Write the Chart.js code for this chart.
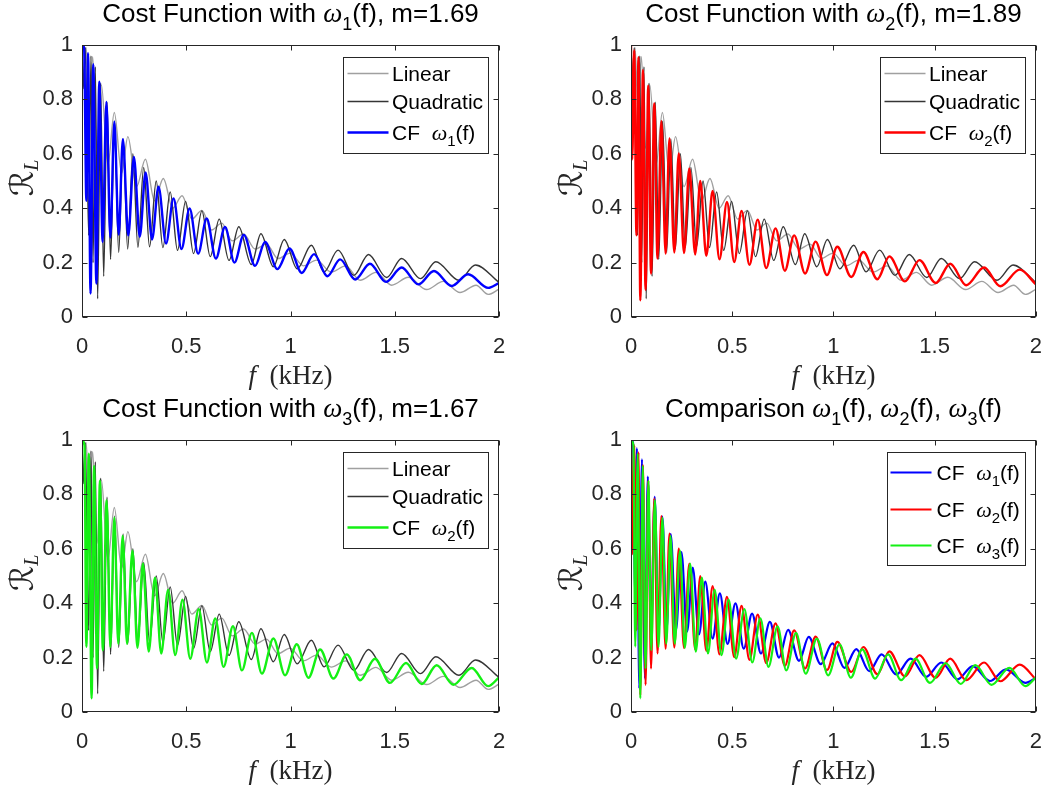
<!DOCTYPE html>
<html>
<head>
<meta charset="utf-8">
<script src="https://cdn.jsdelivr.net/npm/chart.js@4.4.1/dist/chart.umd.min.js"></script>
<style>
  html, body { margin: 0; padding: 0; background: #ffffff; }
  #fig { position: relative; width: 1059px; height: 789px; background: #ffffff; }
  #fig canvas { position: absolute; }
</style>
</head>
<body>
<div id="fig">
  <canvas id="c1" width="530" height="395" style="left:0px;top:0px;"></canvas>
  <canvas id="c2" width="529" height="395" style="left:530px;top:0px;"></canvas>
  <canvas id="c3" width="530" height="394" style="left:0px;top:395px;"></canvas>
  <canvas id="c4" width="529" height="394" style="left:530px;top:395px;"></canvas>
</div>
<script>
// Axis tick values
const xTickValues = [0, 0.5, 1, 1.5, 2];
const yTickValues = [0, 0.2, 0.4, 0.6, 0.8, 1];

// Linear reference curve: frequency (kHz) and R_L at its turning points
const linearFreq = [0, 0.007, 0.02, 0.035, 0.051, 0.072, 0.093, 0.124, 0.155, 0.19,
  0.22, 0.262, 0.304, 0.348, 0.39, 0.435, 0.48, 0.527, 0.575, 0.622,
  0.67, 0.72, 0.775, 0.83, 0.885, 0.94, 0.998, 1.062, 1.125, 1.195,
  1.265, 1.334, 1.41, 1.485, 1.565, 1.653, 1.733, 1.813, 1.89, 1.948, 2.0];
const linearR = [1.0, 0.88, 0.99, 0.75, 0.957, 0.62, 0.853, 0.56, 0.752, 0.528,
  0.663, 0.479, 0.58, 0.427, 0.509, 0.40, 0.446, 0.36, 0.392, 0.32,
  0.345, 0.28, 0.305, 0.25, 0.268, 0.215, 0.235, 0.188, 0.209, 0.165,
  0.188, 0.135, 0.164, 0.117, 0.146, 0.101, 0.131, 0.09, 0.117, 0.083, 0.102];

// Quadratic reference curve
const quadraticFreq = [0, 0.006, 0.016, 0.032, 0.043, 0.053, 0.064, 0.075, 0.089, 0.104,
  0.12, 0.137, 0.156, 0.176, 0.197, 0.219, 0.244, 0.268, 0.296, 0.324,
  0.356, 0.388, 0.423, 0.458, 0.497, 0.535, 0.575, 0.615, 0.658, 0.705,
  0.752, 0.812, 0.858, 0.918, 0.97, 1.032, 1.1, 1.161, 1.228, 1.304,
  1.374, 1.461, 1.533, 1.624, 1.697, 1.808, 1.887, 2.0];
const quadraticR = [1.0, 0.84, 0.99, 0.30, 0.96, 0.2, 0.92, 0.067, 0.86, 0.15,
  0.79, 0.212, 0.72, 0.237, 0.655, 0.25, 0.60, 0.256, 0.55, 0.258,
  0.50, 0.255, 0.46, 0.245, 0.425, 0.233, 0.39, 0.222, 0.36, 0.208,
  0.332, 0.193, 0.306, 0.185, 0.285, 0.177, 0.264, 0.166, 0.246, 0.153,
  0.23, 0.145, 0.215, 0.141, 0.203, 0.135, 0.191, 0.127];

// Cost function with weighting ω1(f)
const cf1Freq = [0, 0.01, 0.021, 0.029, 0.041, 0.054, 0.069, 0.083, 0.099, 0.117,
  0.136, 0.155, 0.176, 0.196, 0.222, 0.249, 0.277, 0.305, 0.336, 0.367,
  0.403, 0.439, 0.477, 0.516, 0.557, 0.598, 0.642, 0.686, 0.731, 0.776,
  0.83, 0.878, 0.937, 0.995, 1.054, 1.113, 1.177, 1.238, 1.31, 1.381,
  1.458, 1.533, 1.613, 1.688, 1.773, 1.852, 1.948, 2.0];
const cf1R = [1.0, 0.99, 0.427, 0.97, 0.086, 0.929, 0.123, 0.865, 0.276, 0.791,
  0.292, 0.718, 0.303, 0.654, 0.30, 0.588, 0.295, 0.531, 0.285, 0.479,
  0.27, 0.436, 0.25, 0.399, 0.233, 0.362, 0.215, 0.331, 0.2, 0.302,
  0.188, 0.276, 0.176, 0.252, 0.162, 0.231, 0.15, 0.212, 0.138, 0.196,
  0.129, 0.182, 0.12, 0.169, 0.114, 0.157, 0.107, 0.125];

// Cost function with weighting ω2(f)
const cf2Freq = [0, 0.006, 0.016, 0.027, 0.037, 0.046, 0.059, 0.072, 0.085, 0.099,
  0.115, 0.131, 0.15, 0.171, 0.19, 0.214, 0.236, 0.262, 0.288, 0.317,
  0.342, 0.372, 0.403, 0.437, 0.474, 0.51, 0.546, 0.585, 0.626, 0.668,
  0.714, 0.76, 0.806, 0.86, 0.912, 0.968, 1.019, 1.088, 1.148, 1.217,
  1.276, 1.353, 1.425, 1.505, 1.577, 1.656, 1.744, 1.824, 1.92, 2.0];
const cf2R = [1.0, 0.58, 0.98, 0.30, 0.955, 0.061, 0.908, 0.10, 0.85, 0.16,
  0.785, 0.215, 0.72, 0.233, 0.656, 0.237, 0.601, 0.235, 0.546, 0.23,
  0.50, 0.225, 0.463, 0.212, 0.423, 0.202, 0.39, 0.192, 0.358, 0.18,
  0.326, 0.17, 0.30, 0.16, 0.277, 0.154, 0.258, 0.147, 0.239, 0.139,
  0.223, 0.131, 0.209, 0.125, 0.196, 0.117, 0.182, 0.113, 0.174, 0.12];

// Cost function with weighting ω3(f)
const cf3Freq = [0, 0.012, 0.021, 0.033, 0.046, 0.058, 0.072, 0.086, 0.1, 0.118,
  0.136, 0.155, 0.174, 0.195, 0.216, 0.242, 0.266, 0.292, 0.32, 0.35,
  0.38, 0.413, 0.447, 0.482, 0.519, 0.56, 0.599, 0.639, 0.679, 0.724,
  0.767, 0.815, 0.863, 0.918, 0.974, 1.03, 1.086, 1.142, 1.206, 1.27,
  1.334, 1.405, 1.477, 1.554, 1.629, 1.701, 1.781, 1.869, 1.948, 2.0];
const cf3R = [1.0, 0.98, 0.24, 0.95, 0.05, 0.905, 0.16, 0.85, 0.227, 0.779,
  0.239, 0.714, 0.251, 0.647, 0.251, 0.593, 0.236, 0.546, 0.222, 0.494,
  0.215, 0.45, 0.209, 0.413, 0.196, 0.378, 0.182, 0.344, 0.166, 0.315,
  0.153, 0.291, 0.141, 0.27, 0.135, 0.249, 0.126, 0.23, 0.123, 0.212,
  0.117, 0.196, 0.107, 0.18, 0.103, 0.172, 0.1, 0.162, 0.095, 0.127];

// ---- styling helpers ----
const AXIS_COLOR = '#262626';
const GRAY = '#a0a0a0';
const DARK = '#353535';
const BLUE = '#0000ff';
const RED = '#ff0000';
const GREEN = '#14f014';

const sans = s => `${s}px "Liberation Sans", Arial, Helvetica, sans-serif`;
const serif = s => `${s}px "Liberation Serif", "Times New Roman", serif`;
const mathIt = s => `italic ${s}px "Liberation Serif", "DejaVu Serif", serif`;
const script = s => `${s}px "DejaVu Serif", "DejaVu Sans", serif`;

function points(fs, rs) {
  return fs.map((f, i) => ({ x: f, y: rs[i] }));
}

function series(label, fs, rs, color, width) {
  return {
    label,
    data: points(fs, rs),
    borderColor: color,
    backgroundColor: color,
    borderWidth: width,
    pointRadius: 0,
    pointHoverRadius: 0,
    showLine: true,
    fill: false,
    cubicInterpolationMode: 'monotone'
  };
}

// rich text: sequence of runs with own font and vertical shift
function richWidth(ctx, parts) {
  let w = 0;
  parts.forEach(p => { ctx.font = p.f; p.w = ctx.measureText(p.t).width; w += p.w; });
  return w;
}
function drawRich(ctx, parts, x, y, align) {
  const w = richWidth(ctx, parts);
  let cx = align === 'center' ? x - w / 2 : x;
  ctx.textAlign = 'left';
  ctx.textBaseline = 'alphabetic';
  parts.forEach(p => {
    ctx.font = p.f;
    ctx.fillText(p.t, cx, y + (p.dy || 0));
    cx += p.w;
  });
}

function omega(n, size, subSize, subDy) {
  return [
    { t: 'ω', f: mathIt(size) },
    { t: String(n), f: sans(subSize), dy: subDy }
  ];
}

// frame, inward ticks, title, axis labels and legend
const decor = {
  id: 'decor',
  afterDatasetsDraw(chart, args, o) {
    const ctx = chart.ctx;
    const a = chart.chartArea;
    const xs = chart.scales.x, ys = chart.scales.y;
    ctx.save();
    ctx.strokeStyle = AXIS_COLOR;
    ctx.lineWidth = 1;
    const L = Math.round(a.left) + 0.5, R = Math.round(a.right) - 0.5;
    const T = Math.round(a.top) + 0.5, B = Math.round(a.bottom) - 0.5;
    ctx.strokeRect(L, T, R - L, B - T);
    const tl = 5;
    ctx.beginPath();
    xTickValues.forEach(v => {
      const px = Math.round(xs.getPixelForValue(v)) + 0.5;
      ctx.moveTo(px, B); ctx.lineTo(px, B - tl);
      ctx.moveTo(px, T); ctx.lineTo(px, T + tl);
    });
    yTickValues.forEach(v => {
      const py = Math.round(ys.getPixelForValue(v)) + 0.5;
      ctx.moveTo(L, py); ctx.lineTo(L + tl, py);
      ctx.moveTo(R, py); ctx.lineTo(R - tl, py);
    });
    ctx.stroke();

    const midX = (a.left + a.right) / 2;
    const midY = (a.top + a.bottom) / 2;

    // title
    ctx.fillStyle = '#000000';
    drawRich(ctx, o.title, midX, 22, 'center');

    // x axis label
    ctx.fillStyle = AXIS_COLOR;
    drawRich(ctx, [
      { t: 'f', f: mathIt(27) },
      { t: '  (kHz)', f: serif(27) }
    ], midX, a.bottom + 67, 'center');

    // y axis label
    ctx.save();
    ctx.translate(a.left - 49, midY - 3);
    ctx.rotate(-Math.PI / 2);
    drawRich(ctx, [
      { t: 'ℛ', f: script(32) },
      { t: 'L', f: mathIt(20), dy: 5 }
    ], 0, 0, 'center');
    ctx.restore();

    // legend
    const lg = o.legend;
    const bx = Math.round(a.right - 11 - lg.w) + 0.5;
    const by = Math.round(a.top + 12) + 0.5;
    ctx.fillStyle = '#ffffff';
    ctx.fillRect(bx, by, lg.w, lg.h);
    ctx.strokeStyle = AXIS_COLOR;
    ctx.lineWidth = 1;
    ctx.strokeRect(bx, by, lg.w, lg.h);
    lg.items.forEach((it, i) => {
      const cy = by + lg.rows[i];
      ctx.strokeStyle = it.color;
      ctx.lineWidth = it.width;
      ctx.beginPath();
      ctx.moveTo(bx + lg.lineFrom, cy);
      ctx.lineTo(bx + lg.lineTo, cy);
      ctx.stroke();
      ctx.fillStyle = '#000000';
      drawRich(ctx, it.parts, bx + lg.textX, cy + 7.5, 'left');
    });
    ctx.restore();
  }
};

function cfLabel(n) {
  return [{ t: 'CF  ', f: sans(21) }].concat(omega(n, 22, 15, 6), [{ t: '(f)', f: sans(21) }]);
}

function makeChart(id, datasets, title, legend, leftW, rightPad, bottomH) {
  return new Chart(document.getElementById(id), {
    type: 'scatter',
    data: { datasets },
    options: {
      responsive: false,
      animation: false,
      events: [],
      layout: { padding: { left: 0, right: rightPad, top: 45, bottom: 0 } },
      scales: {
        x: {
          type: 'linear', min: 0, max: 2,
          afterBuildTicks: s => { s.ticks = xTickValues.map(v => ({ value: v })); },
          afterFit: s => { s.height = bottomH; },
          grid: { display: false, drawTicks: false },
          border: { display: false },
          ticks: {
            autoSkip: false, maxRotation: 0, padding: 17,
            color: AXIS_COLOR,
            font: { family: '"Liberation Sans", Arial, sans-serif', size: 22 },
            callback: v => String(v)
          }
        },
        y: {
          type: 'linear', min: 0, max: 1,
          afterBuildTicks: s => { s.ticks = yTickValues.map(v => ({ value: v })); },
          afterFit: s => { s.width = leftW; },
          grid: { display: false, drawTicks: false },
          border: { display: false },
          ticks: {
            autoSkip: false, padding: 9,
            color: AXIS_COLOR,
            font: { family: '"Liberation Sans", Arial, sans-serif', size: 22 },
            callback: v => String(v)
          }
        }
      },
      plugins: {
        legend: { display: false },
        tooltip: { enabled: false },
        title: { display: false },
        decor: { title, legend }
      }
    },
    plugins: [decor]
  });
}

const refLegend = (n, color) => ({
  w: 145, h: 96, rows: [16, 44, 75], lineFrom: 4, lineTo: 45, textX: 48.5,
  items: [
    { color: GRAY, width: 1.4, parts: [{ t: 'Linear', f: sans(21) }] },
    { color: DARK, width: 1.4, parts: [{ t: 'Quadratic', f: sans(21) }] },
    { color, width: 2.6, parts: cfLabel(n) }
  ]
});

const costTitle = (n, m) => [{ t: 'Cost Function with ', f: sans(26) }]
  .concat(omega(n, 27, 18, 8), [{ t: '(f), m=' + m, f: sans(26) }]);

makeChart('c1', [
  series('CF ω1(f)', cf1Freq, cf1R, BLUE, 2.4),
  series('Quadratic', quadraticFreq, quadraticR, DARK, 1.4),
  series('Linear', linearFreq, linearR, GRAY, 1.4)
], costTitle(1, '1.69'), refLegend(1, BLUE), 82, 31, 78);

makeChart('c2', [
  series('CF ω2(f)', cf2Freq, cf2R, RED, 2.4),
  series('Quadratic', quadraticFreq, quadraticR, DARK, 1.4),
  series('Linear', linearFreq, linearR, GRAY, 1.4)
], costTitle(2, '1.89'), refLegend(2, RED), 101, 11, 78);

makeChart('c3', [
  series('CF ω2(f)', cf3Freq, cf3R, GREEN, 2.4),
  series('Quadratic', quadraticFreq, quadraticR, DARK, 1.4),
  series('Linear', linearFreq, linearR, GRAY, 1.4)
], costTitle(3, '1.67'), refLegend(2, GREEN), 82, 31, 77);

makeChart('c4', [
  series('CF ω3(f)', cf3Freq, cf3R, GREEN, 2.2),
  series('CF ω2(f)', cf2Freq, cf2R, RED, 2.2),
  series('CF ω1(f)', cf1Freq, cf1R, BLUE, 2.2)
], [{ t: 'Comparison ', f: sans(26) }]
    .concat(omega(1, 27, 18, 8), [{ t: '(f), ', f: sans(26) }],
            omega(2, 27, 18, 8), [{ t: '(f), ', f: sans(26) }],
            omega(3, 27, 18, 8), [{ t: '(f)', f: sans(26) }]),
  {
    w: 138, h: 113, rows: [20, 57, 93], lineFrom: 3, lineTo: 44, textX: 49,
    items: [
      { color: BLUE, width: 2.2, parts: cfLabel(1) },
      { color: RED, width: 2.2, parts: cfLabel(2) },
      { color: GREEN, width: 2.2, parts: cfLabel(3) }
    ]
  }, 101, 11, 77);
</script>
</body>
</html>
